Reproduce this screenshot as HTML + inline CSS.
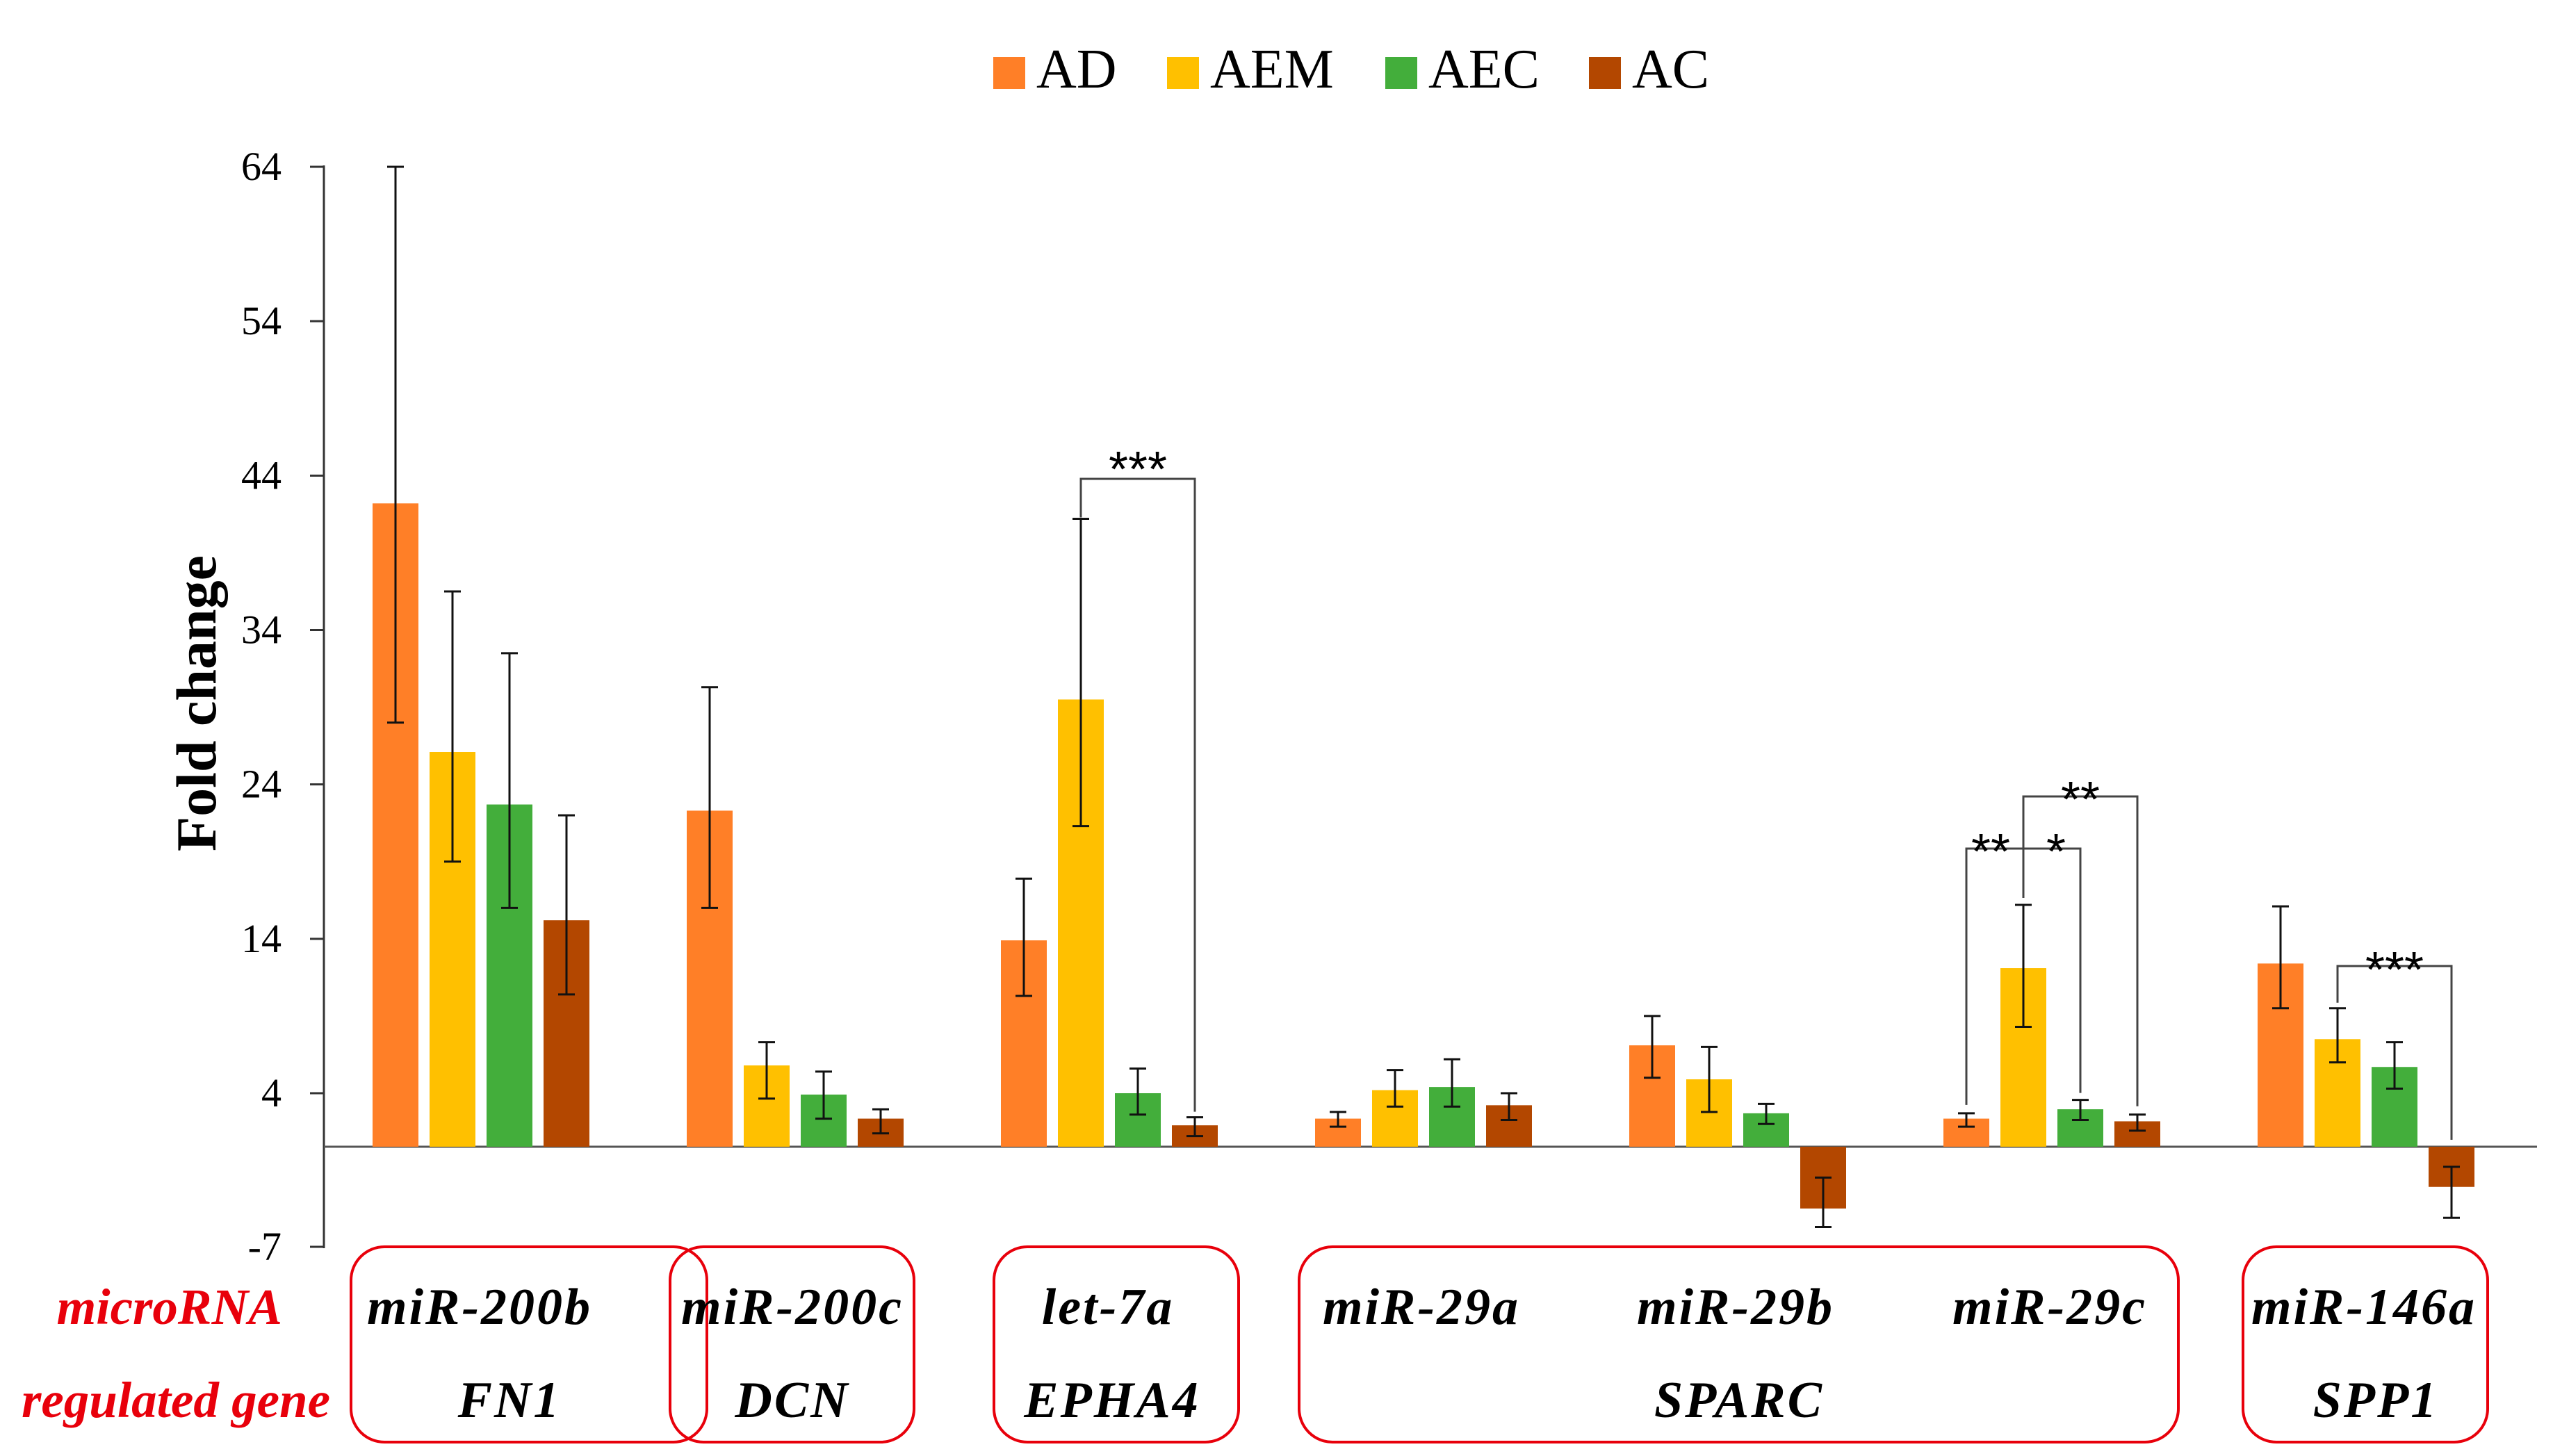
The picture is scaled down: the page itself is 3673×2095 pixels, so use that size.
<!DOCTYPE html>
<html><head><meta charset="utf-8"><style>
html,body{margin:0;padding:0;background:#fff;}
svg{display:block;font-family:"Liberation Serif",serif;}
</style></head><body>
<svg id="chart" width="3673" height="2095" viewBox="0 0 3673 2095" xmlns="http://www.w3.org/2000/svg">
<g id="legend"></g>
<g id="axes"></g>
<g id="bars"></g>
<g id="sig"></g>
<g id="labels"></g>
</svg>
<script>
const seriesNames = ["AD","AEM","AEC","AC"];
const seriesColors = ["#FF7F27","#FFC000","#43AE3B","#B34700"];
const microRNAs = ["miR-200b","miR-200c","let-7a","miR-29a","miR-29b","miR-29c","miR-146a"];
const adValues  = [42.2, 22.3, 13.9, 2.1, 7.1, 2.1, 12.4];
const adHigh    = [64, 30.3, 17.9, 2.6, 9, 2.5, 16.1];
const adLow     = [28, 16, 10.3, 1.5, 5, 1.5, 9.5];
const aemValues = [26.1, 5.8, 29.5, 4.2, 4.9, 12.1, 7.5];
const aemHigh   = [36.5, 7.3, 41.2, 5.5, 7, 16.2, 9.5];
const aemLow    = [19, 3.6, 21.3, 3, 2.6, 8.3, 6];
const aecValues = [22.7, 3.9, 4, 4.4, 2.5, 2.8, 5.7];
const aecHigh   = [32.5, 5.4, 5.6, 6.2, 3.2, 3.5, 7.3];
const aecLow    = [16, 2.1, 2.4, 3, 1.7, 2, 4.3];
const acValues  = [15.2, 2.1, 1.6, 3.1, -4, 1.9, -2.6];
const acHigh    = [22, 2.8, 2.2, 4, -2, 2.4, -1.3];
const acLow     = [10.4, 1, 0.8, 2, -5.2, 1.2, -4.6];
const tickValues = [64,54,44,34,24,14,4,-6];
const tickLabels = ["64","54","44","34","24","14","4","-7"];
const genes = ["FN1","DCN","EPHA4","SPARC","SPP1"];

const NS="http://www.w3.org/2000/svg";
function mk(tag, attrs, parent){const e=document.createElementNS(NS,tag);for(const k in attrs)e.setAttribute(k,attrs[k]);parent.appendChild(e);return e;}
const Y4=1573, Y64=240, BASE=1650, unit=(Y4-Y64)/60;
function y(v){ if(v>=4) return Y4-(v-4)*unit; if(v>=0) return BASE-v*(BASE-Y4)/4; return BASE - v*unit; }
function barLeft(g,i){return 536+452*g+82*i;}
function barCenter(g,i){return barLeft(g,i)+33;}

const axes=document.getElementById('axes');
let l=mk('line',{x1:466,y1:238,x2:466,y2:1796,stroke:'#333','stroke-width':3},axes);


tickValues.forEach((v,k)=>{
  const ty = v===-6 ? 1794 : y(v);
  const t=mk('line',{x1:446,y1:ty,x2:466,y2:ty,stroke:'#333','stroke-width':3},axes);
  
  
  const tx=mk('text',{x:405,y:ty+19,'text-anchor':'end','font-size':58},axes);
  tx.textContent=tickLabels[k];
  
  
});
l=mk('line',{x1:466,y1:BASE,x2:3650,y2:BASE,stroke:'#555','stroke-width':3},axes);


let yt=mk('text',{x:0,y:0,'text-anchor':'middle','font-size':82,'font-weight':'bold',transform:'translate(310,1012) rotate(-90)'},axes);
yt.textContent='Fold change';



// legend
const leg=document.getElementById('legend');
const legX=[1429,1679,1993,2286];
seriesNames.forEach((n,i)=>{
  const r=mk('rect',{x:legX[i],y:82,width:46,height:46,fill:seriesColors[i]},leg);
  
  
  const t=mk('text',{x:legX[i]+62,y:126,'font-size':80},leg);
  t.textContent=n;
  
  
});

// bars
const vals=[adValues,aemValues,aecValues,acValues];
const hi=[adHigh,aemHigh,aecHigh,acHigh];
const lo=[adLow,aemLow,aecLow,acLow];
const barsG=document.getElementById('bars');
microRNAs.forEach((m,g)=>{
  for(let i=0;i<4;i++){
    const v=vals[i][g], yv=y(v);
    const r=mk('rect',{x:barLeft(g,i),y:Math.min(yv,BASE),width:66,height:Math.abs(BASE-yv),fill:seriesColors[i]},barsG);
    
    
    const cx=barCenter(g,i), y1=y(hi[i][g]), y2=y(lo[i][g]);
    const e=mk('path',{d:`M${cx},${y1}V${y2}M${cx-12},${y1}H${cx+12}M${cx-12},${y2}H${cx+12}`,stroke:'#111','stroke-width':3,fill:'none'},barsG);
    
    
  }
});

// significance brackets
const sigG=document.getElementById('sig');
function bracket(g,a,b,yTop,yA,yB){
  const xa=barCenter(g,a), xb=barCenter(g,b);
  const p=mk('path',{d:`M${xa},${yA}V${yTop}H${xb}V${yB}`,stroke:'#444','stroke-width':3,fill:'none'},sigG);
  
  
}
function star(x,yy,txt){
  const t=mk('text',{x:x,y:yy,'text-anchor':'middle','font-size':72,'font-family':'Liberation Sans, sans-serif'},sigG);
  t.textContent=txt;
  
  
}
bracket(2,1,3,689,y(aemHigh[2])-2,y(acHigh[2])-8);
star((barCenter(2,1)+barCenter(2,3))/2,700,'***');
bracket(5,0,2,1221,y(adHigh[5])-12,y(aecHigh[5])-10);
star(barCenter(5,0)+35,1250,'**');
star(barCenter(5,2)-35,1250,'*');
bracket(5,1,3,1146,y(aemHigh[5])-10,y(acHigh[5])-12);
star((barCenter(5,1)+barCenter(5,3))/2,1175,'**');
bracket(6,1,3,1390,y(aemHigh[6])-8,BASE-10);
star((barCenter(6,1)+barCenter(6,3))/2,1420,'***');

// bottom labels
const lab=document.getElementById('labels');
const boxes=[[505,1794,512,281],[964,1794,351,281],[1430,1794,352,281],[1869,1794,1265,281],[3227,1794,352,281]];
boxes.forEach((b,k)=>{
  const r=mk('rect',{x:b[0],y:b[1],width:b[2],height:b[3],rx:48,ry:48,fill:'none',stroke:'#E8000B','stroke-width':4},lab);
  
  
});
const t1=mk('text',{x:406,y:1905,'text-anchor':'end','font-size':73,'font-style':'italic','font-weight':'bold',fill:'#E8000B'},lab);
t1.textContent='microRNA';


const t2=mk('text',{x:475,y:2039,'text-anchor':'end','font-size':73,'font-style':'italic','font-weight':'bold',fill:'#E8000B'},lab);
t2.textContent='regulated gene';


const mirX=[690,1140,1594,2045,2497,2949,3401];
microRNAs.forEach((m,g)=>{
  const t=mk('text',{x:mirX[g],y:1905,'text-anchor':'middle','font-size':74,'font-style':'italic','font-weight':'bold','letter-spacing':3},lab);
  t.textContent=m;
  
  
});
const geneX=[733,1140,1600,2502,3418];
genes.forEach((n,k)=>{
  const t=mk('text',{x:geneX[k],y:2039,'text-anchor':'middle','font-size':74,'font-style':'italic','font-weight':'bold','letter-spacing':3},lab);
  t.textContent=n;
  
  
});
</script>
</body></html>
